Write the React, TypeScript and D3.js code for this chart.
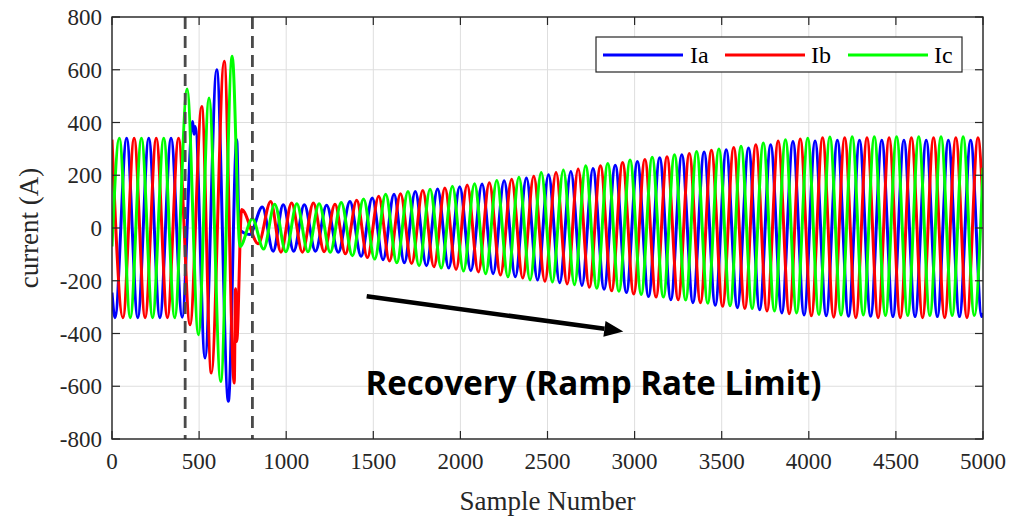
import React from 'react';
import * as d3 from 'd3';

// ---- Data (extrema: [sample, current A]) ----
const ia: [number, number][] = [
  [0,-245],[17,-340],[84,340],[148,-340],[211,340],[275,-340],[339,340],[403,-338],
  [463,404],[471,355],[478,385],[534,-493],[601,600],[668,-657],[716,335],[730,-5],
  [790,-25],[863,80],[925,-88],[983,88],[1043,-88],[1104,88],[1168,-88],[1232,86],[1299,-92],
  [1366,100],[1430,-107],[1494,114],[1556,-120],[1619,128],[1678,-132],[1741,138],[1805,-143],
  [1869,148],[1933,-152],[1996,156],[2060,-162],[2124,167],[2188,-173],[2251,179],[2315,-185],
  [2379,190],[2443,-197],[2506,202],[2570,-208],[2634,214],[2698,-218],[2761,226],[2825,-232],
  [2889,238],[2953,-245],[3016,252],[3080,-260],[3144,266],[3208,-272],[3271,278],[3335,-283],
  [3399,288],[3463,-293],[3526,297],[3590,-302],[3654,303],[3718,-310],[3781,316],[3845,-322],
  [3909,328],[3973,-330],[4036,330],[4100,-333],[4164,333],[4228,-335],[4291,333],[4355,-335],
  [4419,333],[4483,-336],[4546,333],[4610,-336],[4674,333],[4738,-336],[4801,333],[4865,-336],
  [4929,333],[4993,-336],[5000,-322]
];

const ib: [number, number][] = [
  [0,335],[63,-340],[127,340],[190,-340],[254,340],[318,-340],[382,340],[448,-367],[515,461],
  [570,-550],[644,632],[702,-588],[709,-230],[716,-430],[744,70],[840,-60],[911,100],[970,-92],
  [1031,95],[1093,-92],[1156,95],[1218,-90],[1280,90],[1340,-98],[1405,105],[1466,-112],
  [1531,120],[1593,-125],[1656,130],[1720,-135],[1784,142],[1848,-147],[1911,152],[1975,-157],
  [2039,163],[2103,-167],[2166,172],[2230,-178],[2294,185],[2358,-190],[2421,196],[2485,-202],
  [2549,210],[2613,-212],[2676,224],[2740,-225],[2804,236],[2868,-238],[2931,248],[2995,-250],
  [3059,260],[3123,-262],[3186,270],[3250,-272],[3314,282],[3378,-283],[3441,295],[3505,-297],
  [3569,305],[3633,-305],[3696,316],[3760,-315],[3824,330],[3888,-325],[3951,337],[4015,-333],
  [4079,342],[4143,-338],[4206,342],[4270,-340],[4334,342],[4398,-340],[4461,342],[4525,-340],
  [4589,342],[4653,-340],[4716,342],[4780,-340],[4844,342],[4908,-340],[4971,342],[5000,88]
];

const ic: [number, number][] = [
  [0,-70],[42,340],[105,-340],[169,340],[233,-340],[297,340],[360,-340],[431,527],[496,-405],
  [557,493],[624,-582],[690,651],[735,-70],[806,35],[870,-80],[934,90],[998,-90],[1061,92],
  [1125,-90],[1189,92],[1253,-92],[1316,97],[1380,-105],[1444,110],[1508,-118],[1571,128],
  [1635,-132],[1699,138],[1763,-143],[1826,147],[1890,-152],[1954,158],[2018,-163],[2081,168],
  [2145,-173],[2209,180],[2273,-185],[2336,192],[2400,-197],[2464,210],[2528,-205],[2591,220],
  [2655,-215],[2719,236],[2783,-228],[2846,245],[2910,-240],[2974,258],[3038,-252],[3101,268],
  [3165,-262],[3229,278],[3293,-273],[3356,290],[3420,-285],[3484,300],[3548,-295],[3611,310],
  [3675,-305],[3739,322],[3803,-315],[3866,335],[3930,-322],[3994,340],[4058,-328],[4121,345],
  [4185,-330],[4249,346],[4313,-330],[4376,346],[4440,-332],[4504,346],[4568,-332],[4631,346],
  [4695,-332],[4759,346],[4823,-332],[4886,346],[4950,-332],[5000,228]
];

const seriesNames = ['Ia', 'Ib', 'Ic'];
const seriesColors = ['#0000ff', '#ff0000', '#00ff00'];
const xTicks = [0, 500, 1000, 1500, 2000, 2500, 3000, 3500, 4000, 4500, 5000];
const yTicks = [-800, -600, -400, -200, 0, 200, 400, 600, 800];
const faultMarkers = [420, 806];
const arrowFrom: [number, number] = [1462, -259];
const arrowTo: [number, number] = [2935, -392];
const annotationText = 'Recovery (Ramp Rate Limit)';
const annotationAt: [number, number] = [1455, -632];

const W = 1012, H = 519;
const L = 112, R = 983, T = 17, B = 439;
const AX = '#262626';
const SERIF = '"Liberation Serif", "Times New Roman", serif';

export default function App() {
  const x = d3.scaleLinear().domain([0, 5000]).range([L, R]);
  const y = d3.scaleLinear().domain([-800, 800]).range([B, T]);
  const line = d3.line<[number, number]>()
    .x(d => x(d[0]))
    .y(d => y(d[1]))
    .curve(d3.curveMonotoneX);
  const data = [ia, ib, ic];

  const [ax0, ay0] = [x(arrowFrom[0]), y(arrowFrom[1])];
  const [ax1, ay1] = [x(arrowTo[0]), y(arrowTo[1])];
  const ang = Math.atan2(ay1 - ay0, ax1 - ax0);
  const headLen = 19, headW = 8;
  const bx = ax1 - headLen * Math.cos(ang), by = ay1 - headLen * Math.sin(ang);
  const px = -Math.sin(ang), py = Math.cos(ang);
  const head = `${ax1},${ay1} ${bx + px * headW},${by + py * headW} ${bx - px * headW},${by - py * headW}`;

  const legendX = 596, legendY = 37, legendW = 366, legendH = 35;
  const legendItems = [
    { lx: 603, tx: 690 },
    { lx: 725, tx: 811 },
    { lx: 848, tx: 934 },
  ];

  return (
    <svg width={W} height={H} style={{ position: 'absolute', left: 0, top: 0, background: '#fff' }}>
      <defs>
        <clipPath id="plotclip">
          <rect x={L} y={T} width={R - L} height={B - T} />
        </clipPath>
      </defs>
      <rect x={0} y={0} width={W} height={H} fill="#fff" />
      {/* grid */}
      {xTicks.map(t => (
        <line key={'gx' + t} x1={x(t)} x2={x(t)} y1={T} y2={B} stroke="#dedede" strokeWidth={1} />
      ))}
      {yTicks.map(t => (
        <line key={'gy' + t} x1={L} x2={R} y1={y(t)} y2={y(t)} stroke="#dedede" strokeWidth={1} />
      ))}
      {/* series */}
      <g clipPath="url(#plotclip)">
        {data.map((d, i) => (
          <path key={i} d={line(d) || ''} fill="none" stroke={seriesColors[i]} strokeWidth={3} strokeLinejoin="round" />
        ))}
      </g>
      {/* fault markers */}
      {faultMarkers.map(m => (
        <line key={'f' + m} x1={x(m)} x2={x(m)} y1={T} y2={B} stroke="#4a4a4a" strokeWidth={2.8} strokeDasharray="12 7" />
      ))}
      {/* axes box */}
      <rect x={L} y={T} width={R - L} height={B - T} fill="none" stroke={AX} strokeWidth={1.4} />
      {xTicks.map(t => (
        <g key={'xt' + t}>
          <line x1={x(t)} x2={x(t)} y1={B} y2={B - 8} stroke={AX} strokeWidth={1.2} />
          <line x1={x(t)} x2={x(t)} y1={T} y2={T + 8} stroke={AX} strokeWidth={1.2} />
          <text x={x(t)} y={469} textAnchor="middle" fontFamily={SERIF} fontSize={23} fill={AX}>{t}</text>
        </g>
      ))}
      {yTicks.map(t => (
        <g key={'yt' + t}>
          <line x1={L} x2={L + 8} y1={y(t)} y2={y(t)} stroke={AX} strokeWidth={1.2} />
          <line x1={R} x2={R - 8} y1={y(t)} y2={y(t)} stroke={AX} strokeWidth={1.2} />
          <text x={102} y={y(t)} dy="0.35em" textAnchor="end" fontFamily={SERIF} fontSize={23} fill={AX}>{t}</text>
        </g>
      ))}
      {/* axis labels */}
      <text x={(L + R) / 2} y={510} textAnchor="middle" fontFamily={SERIF} fontSize={27} fill={AX}>Sample Number</text>
      <text transform={`translate(38,${(T + B) / 2}) rotate(-90)`} textAnchor="middle" fontFamily={SERIF} fontSize={27} fill={AX}>current (A)</text>
      {/* legend */}
      <rect x={legendX} y={legendY} width={legendW} height={legendH} fill="#fff" stroke={AX} strokeWidth={1.2} />
      {legendItems.map((it, i) => (
        <g key={'lg' + i}>
          <line x1={it.lx} x2={it.lx + 80} y1={legendY + 18} y2={legendY + 18} stroke={seriesColors[i]} strokeWidth={3} />
          <text x={it.tx} y={legendY + 26} fontFamily={SERIF} fontSize={24} fill="#000">{seriesNames[i]}</text>
        </g>
      ))}
      {/* annotation arrow and text */}
      <line x1={ax0} y1={ay0} x2={bx} y2={by} stroke="#000" strokeWidth={4.5} />
      <polygon points={head} fill="#000" />
      <text x={x(annotationAt[0])} y={y(annotationAt[1])} fontFamily='"Open Sans", "DejaVu Sans", sans-serif' fontWeight={700} fontSize={34} fill="#000" textLength={456} lengthAdjust="spacingAndGlyphs">{annotationText}</text>
    </svg>
  );
}
